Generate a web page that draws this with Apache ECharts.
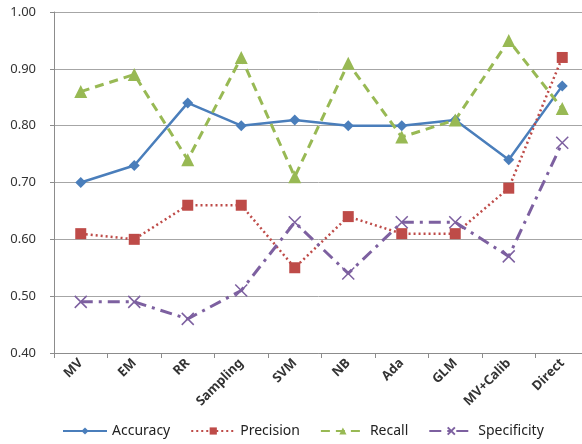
<!DOCTYPE html>
<html>
<head>
<meta charset="utf-8">
<script src="https://cdn.jsdelivr.net/npm/echarts@6/dist/echarts.min.js"></script>
<style>html,body{margin:0;padding:0;background:#fff;}#c{width:582px;height:444px;}</style>
</head>
<body>
<div id="c"></div>
<script>
const categories = ['MV','EM','RR','Sampling','SVM','NB','Ada','GLM','MV+Calib','Direct'];
const accuracy    = [0.70,0.73,0.84,0.80,0.81,0.80,0.80,0.81,0.74,0.87];
const precision   = [0.61,0.60,0.66,0.66,0.55,0.64,0.61,0.61,0.69,0.92];
const recall      = [0.86,0.89,0.74,0.92,0.71,0.91,0.78,0.81,0.95,0.83];
const specificity = [0.49,0.49,0.46,0.51,0.63,0.54,0.63,0.63,0.57,0.77];
const yTicks = [0.40,0.50,0.60,0.70,0.80,0.90,1.00];

const chart = echarts.init(document.getElementById('c'), null, {renderer:'canvas'});
const font = 'Noto Sans';
chart.setOption({
  animation:false,
  backgroundColor:'#fff',
  grid:{left:54, width:535, top:12, height:341, containLabel:false, outerBoundsMode:'none'},
  legend:{
    bottom:1, left:57,
    itemWidth:44, itemHeight:9, itemGap:20,
    textStyle:{fontFamily:font, fontSize:14, color:'#222'},
    data:['Accuracy','Precision','Recall','Specificity']
  },
  xAxis:{
    type:'category', data:categories, boundaryGap:true,
    axisLine:{lineStyle:{color:'#8c8c8c', width:1}},
    axisTick:{show:true, length:5, lineStyle:{color:'#8c8c8c'}},
    axisLabel:{rotate:45, fontFamily:font, fontSize:13, fontWeight:'bold', color:'#333', margin:8, interval:0}
  },
  yAxis:{
    type:'value', min:yTicks[0], max:yTicks[yTicks.length-1], interval:0.1,
    axisLine:{show:true, lineStyle:{color:'#8c8c8c'}},
    axisTick:{show:true, length:4, lineStyle:{color:'#8c8c8c'}},
    splitLine:{lineStyle:{color:'#a6a6a6', width:1}},
    axisLabel:{fontFamily:font, fontSize:13, color:'#333', margin:18, formatter:v=>v.toFixed(2)}
  },
  series:[
    {name:'Accuracy', type:'line', data:accuracy, symbol:'diamond', symbolSize:11,
     lineStyle:{color:'#4a7ebb', width:2.5}, itemStyle:{color:'#4a7ebb'}},
    {name:'Precision', type:'line', data:precision, symbol:'rect', symbolSize:11,
     lineStyle:{color:'#be4b48', width:2.5, type:[2,3]}, itemStyle:{color:'#be4b48'}},
    {name:'Recall', type:'line', data:recall, symbol:'triangle', symbolSize:13,
     lineStyle:{color:'#98b954', width:3, type:[9,6]}, itemStyle:{color:'#98b954'}},
    {name:'Specificity', type:'line', data:specificity, symbol:'path://M0,0L10,10M10,0L0,10', symbolSize:12,
     lineStyle:{color:'#7d60a0', width:3, type:[12,6,3,6]},
     itemStyle:{color:'none', borderColor:'#7d60a0', borderWidth:1.5}}
  ]
});
</script>
</body>
</html>
